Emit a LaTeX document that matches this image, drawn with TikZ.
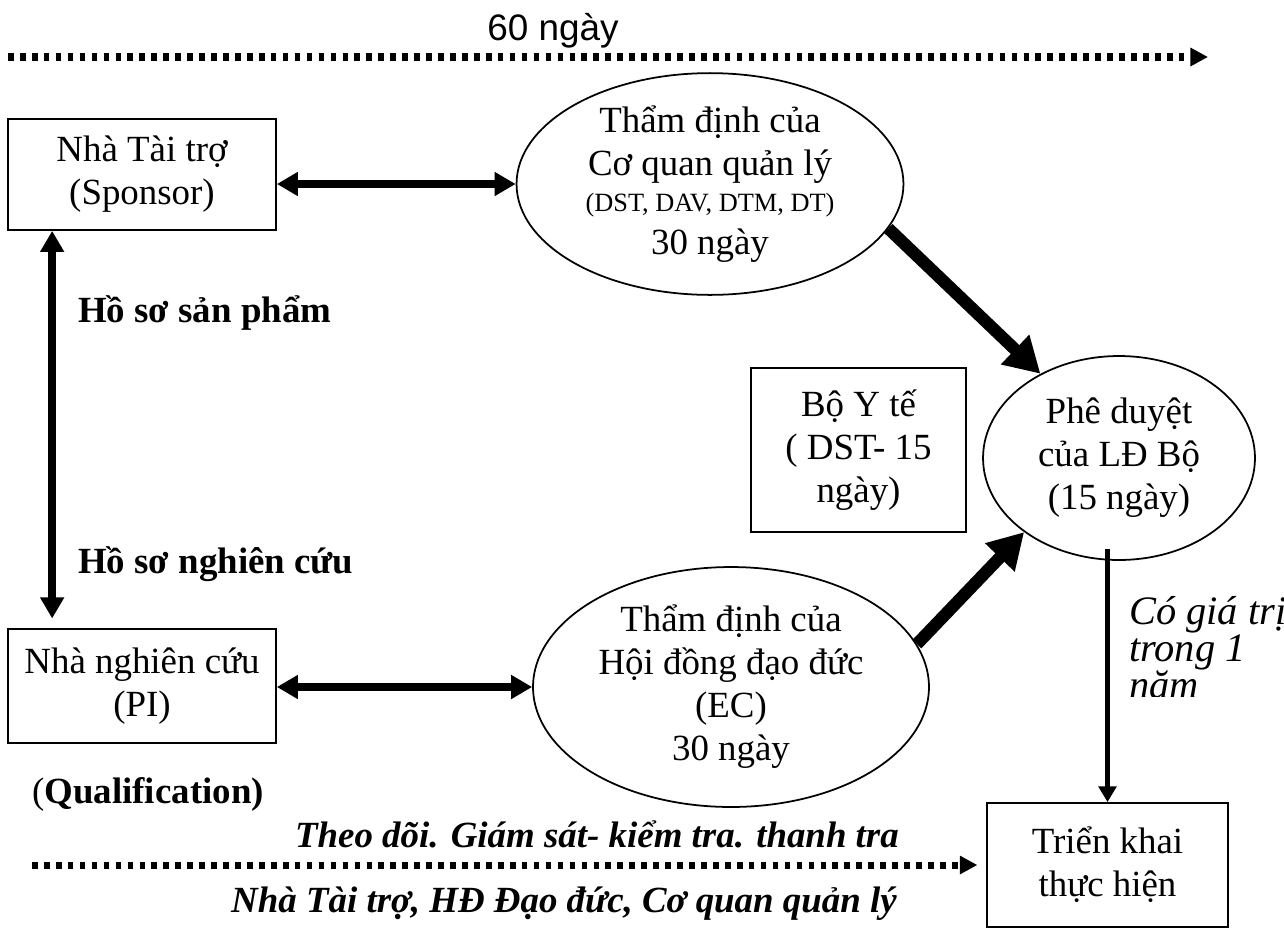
\documentclass[tikz,border=0pt]{standalone}
\usepackage{fontspec}
\setmainfont{Liberation Serif}
\newfontfamily\arialfont{Liberation Sans}
\usetikzlibrary{positioning, arrows.meta, calc, shapes.geometric}

\begin{document}
\begin{tikzpicture}[x=0.02cm, y=-0.02cm,
    every node/.style={font=\fontsize{21}{24.5}\selectfont},
    box/.style={draw, line width=1pt, align=center, inner sep=0pt},
    oval/.style={draw, ellipse, line width=1pt, align=center, inner sep=0pt},
    dblarrow/.style={line width=4.5pt, {Triangle[width=13pt,length=12pt]}-{Triangle[width=13pt,length=12pt]}},
    fatarrow/.style={line width=7pt, -{Triangle[width=22pt,length=20pt]}},
    thinarrow/.style={line width=2.8pt, -{Triangle[width=10pt,length=9pt]}},
    dotarrow/.style={line width=4pt, dash pattern=on 3.2pt off 3.6pt, -{Triangle[width=10pt,length=10pt]}}]
  \useasboundingbox (0,0) rectangle (1284,937);

  % time line on top
  \node[font=\arialfont\fontsize{21}{24}\selectfont, anchor=base] (sixty) at (553,40) {60 ngày};
  \coordinate (topL) at (8,57);
  \coordinate (topR) at (1208,57);
  \draw[dotarrow] (topL) -- (topR);

  % parties and reviews
  \node[box, minimum width=5.36cm, minimum height=2.22cm] (sponsor) at (142,174.5) {Nhà Tài trợ\\(Sponsor)};
  \node[oval, minimum width=7.74cm, minimum height=4.36cm] (qly) at (710,184)
    {Thẩm định của\\Cơ quan quản lý\\[-4pt]{\fontsize{15}{17}\selectfont (DST, DAV, DTM, DT)}\\30 ngày};
  \node[box, minimum width=5.36cm, minimum height=2.28cm] (pi) at (142,686) {Nhà nghiên cứu\\(PI)};
  \node[oval, minimum width=7.92cm, minimum height=4.8cm] (ec) at (731,687)
    {Thẩm định của\\Hội đồng đạo đức\\(EC)\\30 ngày};
  \node[box, minimum width=4.3cm, minimum height=3.28cm] (byt) at (858.5,450) {Bộ Y tế\\( DST- 15\\ngày)};
  \node[oval, minimum width=5.44cm, minimum height=4.08cm] (phe) at (1119,458) {Phê duyệt\\của LĐ Bộ\\(15 ngày)};
  \node[box, minimum width=4.82cm, minimum height=2.48cm] (tkhai) at (1107.5,865) {Triển khai\\thực hiện};

  % labels
  \node[anchor=base west] (hssp) at (72,322) {\textbf{Hồ sơ sản phẩm}};
  \node[anchor=base west] (hsnc) at (72,573) {\textbf{Hồ sơ nghiên cứu}};
  \node[anchor=base west] (qual) at (26,803) {(\textbf{Qualification)}};
  \node[anchor=base east] (theodoi) at (905,847) {\textbf{\textit{Theo dõi. Giám sát- kiểm tra. thanh tra}}};
  \node[anchor=base east] (giamsat) at (903,912) {\textbf{\textit{Nhà Tài trợ, HĐ Đạo đức, Cơ quan quản lý}}};
  \begin{scope}
    \clip (1110,590) rectangle (1284,696);
    \node[anchor=base west, align=left, font=\fontsize{23}{21}\selectfont\itshape] (hieuluc) at (1123,698) {Có giá trị\\trong 1\\năm};
  \end{scope}

  % connectors
  \draw[dblarrow] (sponsor.east |- qly.west) -- (qly.west);
  \draw[dblarrow] (pi.east |- ec.west) -- (ec.west);
  \draw[dblarrow] (sponsor.south west) ++(45,0) coordinate (docTop) -- (docTop |- pi.north) [shorten >=5.5pt];
  \draw[fatarrow] (qly.-14) -- (phe.133);
  \draw[fatarrow] (ec.13) -- (phe.218);
  \draw[thinarrow] (tkhai.north |- phe.south) ++(0,-12) -- (tkhai.north);
  \coordinate (botL) at (32,865);
  \draw[dotarrow] (botL) -- (tkhai.west |- botL) [shorten >=5pt];
\end{tikzpicture}
\end{document}
